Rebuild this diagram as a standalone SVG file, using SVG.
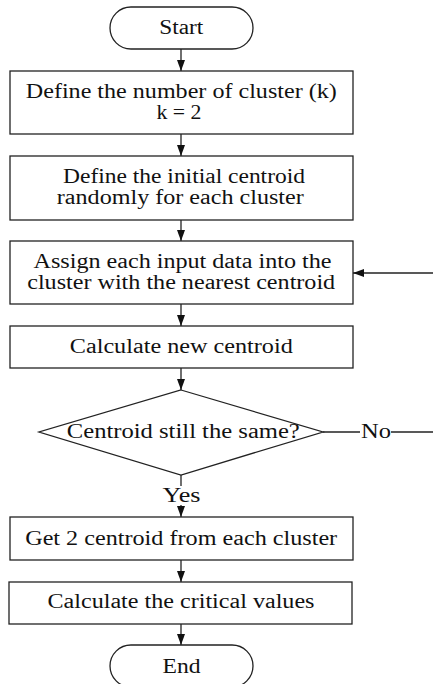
<svg xmlns="http://www.w3.org/2000/svg" width="433" height="684" viewBox="0 0 433 684">
<defs>
<style>
.s{fill:#fff;stroke:#222;stroke-width:1.3}
.c{fill:none;stroke:#222;stroke-width:1.3}
.t{font-size:20px;fill:#111;text-anchor:middle}
</style>
<marker id="ah" markerWidth="12" markerHeight="8" refX="11" refY="4" orient="auto" markerUnits="userSpaceOnUse">
<path d="M0,0 L11,4 L0,8 Z" fill="#111"/>
</marker>
</defs>
<rect width="433" height="684" fill="#fff"/>
<g font-family="'Liberation Serif', 'Times New Roman', 'DejaVu Serif', serif">
<g id="connectors">
<line class="c" x1="181" y1="49" x2="181" y2="71" marker-end="url(#ah)"/>
<line class="c" x1="181" y1="134" x2="181" y2="156" marker-end="url(#ah)"/>
<line class="c" x1="181" y1="220" x2="181" y2="241" marker-end="url(#ah)"/>
<line class="c" x1="181" y1="304" x2="181" y2="326" marker-end="url(#ah)"/>
<line class="c" x1="181" y1="368" x2="181" y2="390" marker-end="url(#ah)"/>
<line class="c" x1="181" y1="475" x2="181" y2="486"/>
<line class="c" x1="181" y1="505" x2="181" y2="517" marker-end="url(#ah)"/>
<line class="c" x1="181" y1="560" x2="181" y2="582" marker-end="url(#ah)"/>
<line class="c" x1="181" y1="624" x2="181" y2="645" marker-end="url(#ah)"/>
<line class="c" x1="323" y1="432" x2="360" y2="432"/>
<line class="c" x1="391" y1="432" x2="433" y2="432"/>
<line class="c" x1="433" y1="273" x2="353" y2="273" marker-end="url(#ah)"/>
<text class="t" x="376" y="438" textLength="30" lengthAdjust="spacingAndGlyphs">No</text>
<text class="t" x="181.5" y="502" textLength="38" lengthAdjust="spacingAndGlyphs">Yes</text>
</g>
<g id="start"><rect class="s" x="110" y="7" width="143" height="42" rx="21"/><text class="t" x="181.3" y="34" textLength="44" lengthAdjust="spacingAndGlyphs">Start</text></g>
<g id="define-k"><rect class="s" x="10" y="71" width="343" height="63"/><text class="t" x="181.3" y="97.5" textLength="311" lengthAdjust="spacingAndGlyphs">Define the number of cluster (k)</text><text class="t" x="179" y="118.5" textLength="45" lengthAdjust="spacingAndGlyphs">k = 2</text></g>
<g id="init-centroid"><rect class="s" x="10" y="156" width="343" height="64"/><text class="t" x="184" y="183" textLength="242" lengthAdjust="spacingAndGlyphs">Define the initial centroid</text><text class="t" x="180.3" y="204" textLength="247" lengthAdjust="spacingAndGlyphs">randomly for each cluster</text></g>
<g id="assign"><rect class="s" x="10" y="241" width="343" height="63"/><text class="t" x="182.5" y="268" textLength="298" lengthAdjust="spacingAndGlyphs">Assign each input data into the</text><text class="t" x="181.2" y="289" textLength="308" lengthAdjust="spacingAndGlyphs">cluster with the nearest centroid</text></g>
<g id="new-centroid"><rect class="s" x="10" y="326" width="343" height="42"/><text class="t" x="181.3" y="353" textLength="223" lengthAdjust="spacingAndGlyphs">Calculate new centroid</text></g>
<g id="decision"><polygon class="s" points="181,390 323,432 181,475 39,432"/><text class="t" x="183.3" y="438" textLength="233" lengthAdjust="spacingAndGlyphs">Centroid still the same?</text></g>
<g id="get-centroid"><rect class="s" x="10" y="517" width="343" height="43"/><text class="t" x="181.2" y="545" textLength="312" lengthAdjust="spacingAndGlyphs">Get 2 centroid from each cluster</text></g>
<g id="critical"><rect class="s" x="9" y="582" width="343" height="42"/><text class="t" x="181" y="608" textLength="267" lengthAdjust="spacingAndGlyphs">Calculate the critical values</text></g>
<g id="end"><rect class="s" x="110" y="645" width="143" height="42" rx="21"/><text class="t" x="181.5" y="673" textLength="38" lengthAdjust="spacingAndGlyphs">End</text></g>
</g>
</svg>
